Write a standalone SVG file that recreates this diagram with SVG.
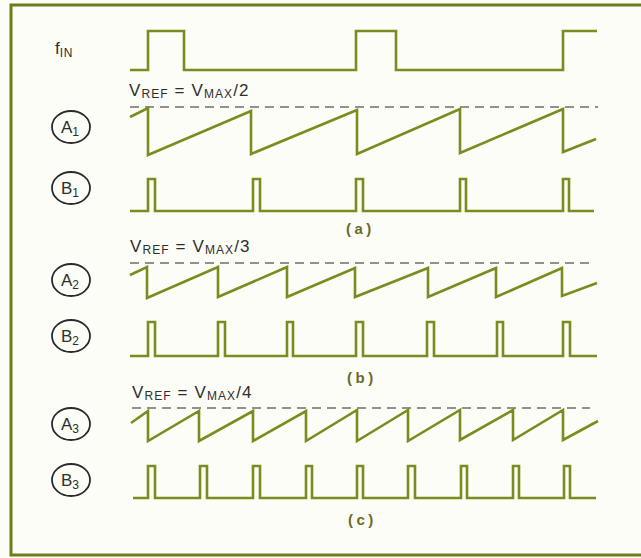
<svg xmlns="http://www.w3.org/2000/svg" width="641" height="558" viewBox="0 0 641 558">
<style>
.wave{fill:none;stroke:#7b8c1e;stroke-width:2.6;stroke-linejoin:miter;stroke-linecap:butt}
.ref{fill:none;stroke:#6f6f6a;stroke-width:1.6;stroke-dasharray:9 6}
.lbl{font-family:"Liberation Sans",Arial,sans-serif;fill:#2e2e2e}
.vr{letter-spacing:1.1px}
.circ{fill:none;stroke:#2a2a2a;stroke-width:1.8}
.big{font-size:17px}
.sub{font-size:12px}
.cap{font-family:"Liberation Sans",Arial,sans-serif;fill:#6b6a2a;font-size:15px;font-weight:bold;letter-spacing:3.5px}
</style>
<rect x="0" y="0" width="641" height="558" fill="#fdfdf7"/>
<rect id="frame" x="11" y="5" width="650" height="550" fill="none" stroke="#6e7d1c" stroke-width="3"/>

<g id="fin">
<text class="lbl" x="55" y="54"><tspan class="big">f</tspan><tspan class="sub" dy="3" letter-spacing="0.8">IN</tspan></text>
</g>

<g id="vref1">
<text class="lbl vr" x="129" y="96"><tspan class="big">V</tspan><tspan class="sub" dy="1.5">REF</tspan><tspan class="big" dy="-1.5"> = V</tspan><tspan class="sub" dy="1.5">MAX</tspan><tspan class="big" dy="-1.5">/2</tspan></text>
</g>
<g id="A1"><ellipse class="circ" cx="71" cy="127" rx="19" ry="16"/><text class="lbl" x="61" y="133"><tspan class="big">A</tspan><tspan class="sub" dy="3">1</tspan></text></g>
<g id="B1"><ellipse class="circ" cx="71" cy="188" rx="19" ry="16"/><text class="lbl" x="61" y="194"><tspan class="big">B</tspan><tspan class="sub" dy="3">1</tspan></text></g>
<text id="cap-a" class="cap" x="346" y="234">(a)</text>

<g id="vref2">
<text class="lbl vr" x="130" y="252"><tspan class="big">V</tspan><tspan class="sub" dy="1.5">REF</tspan><tspan class="big" dy="-1.5"> = V</tspan><tspan class="sub" dy="1.5">MAX</tspan><tspan class="big" dy="-1.5">/3</tspan></text>
</g>
<g id="A2"><ellipse class="circ" cx="71" cy="280" rx="19" ry="16"/><text class="lbl" x="61" y="286"><tspan class="big">A</tspan><tspan class="sub" dy="3">2</tspan></text></g>
<g id="B2"><ellipse class="circ" cx="71" cy="336" rx="19" ry="16"/><text class="lbl" x="61" y="342"><tspan class="big">B</tspan><tspan class="sub" dy="3">2</tspan></text></g>
<text id="cap-b" class="cap" x="347" y="383">(b)</text>

<g id="vref3">
<text class="lbl vr" x="132" y="398"><tspan class="big">V</tspan><tspan class="sub" dy="1.5">REF</tspan><tspan class="big" dy="-1.5"> = V</tspan><tspan class="sub" dy="1.5">MAX</tspan><tspan class="big" dy="-1.5">/4</tspan></text>
</g>
<g id="A3"><ellipse class="circ" cx="71" cy="424" rx="19" ry="16"/><text class="lbl" x="61" y="430"><tspan class="big">A</tspan><tspan class="sub" dy="3">3</tspan></text></g>
<g id="B3"><ellipse class="circ" cx="71" cy="480" rx="19" ry="16"/><text class="lbl" x="61" y="486"><tspan class="big">B</tspan><tspan class="sub" dy="3">3</tspan></text></g>
<text id="cap-c" class="cap" x="348" y="525">(c)</text>

<g id="connectors">
<path class="wave" d="M130,70 H148 V31 H184 V70 H356 V31 H396 V70 H563 V31 H597"/>
<line class="ref" x1="130" y1="107" x2="598" y2="107"/>
<path class="wave" d="M130,117 L148,108 V155 L251,111 V154 L357,110 V154 L460,109 V153 L563,109 V152 L596,139"/>
<path class="wave" d="M130,211 H148 V179 H155 V211 H253 V179 H260 V211 H356 V179 H363 V211 H460 V179 H466 V211 H563 V179 H569 V211 H594"/>

<line class="ref" x1="130" y1="263" x2="595" y2="263"/>
<path class="wave" d="M130,275 L147,267 V298 L218,267 V297 L287,267 V297 L355,268 V297 L428,268 V297 L496,268 V297 L562,268 V296 L597,283"/>
<path class="wave" d="M130,356 H148 V322 H155 V356 H218 V322 H225 V356 H287 V322 H293 V356 H356 V322 H363 V356 H427 V322 H434 V356 H497 V322 H503 V356 H563 V322 H570 V356 H597"/>

<line class="ref" x1="132" y1="408" x2="590" y2="408"/>
<path class="wave" d="M131,423 L148,411 V441 L199,411 V441 L253,411 V441 L306,411 V441 L357,410 V441 L408,410 V441 L460,410 V440 L513,410 V440 L563,410 V440 L598,421"/>
<path class="wave" d="M133,498 H148 V466 H155 V498 H200 V466 H207 V498 H253 V466 H260 V498 H306 V466 H312 V498 H357 V466 H363 V498 H408 V466 H415 V498 H461 V466 H467 V498 H513 V466 H519 V498 H564 V466 H570 V498 H596"/>
</g>
</svg>
